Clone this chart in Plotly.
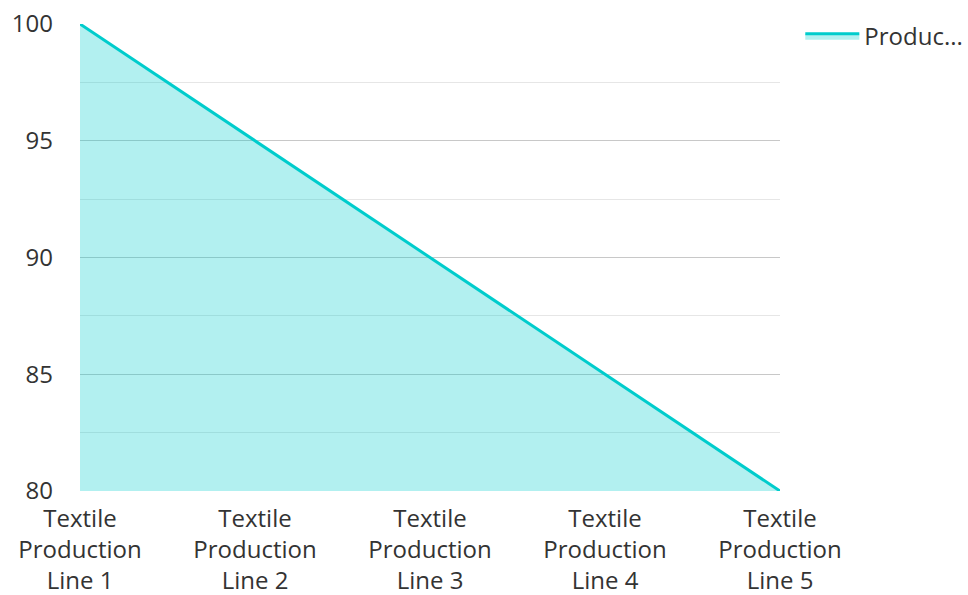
import plotly.graph_objects as go

categories = ["Textile<br>Production<br>Line 1", "Textile<br>Production<br>Line 2",
              "Textile<br>Production<br>Line 3", "Textile<br>Production<br>Line 4",
              "Textile<br>Production<br>Line 5"]
values = [100, 95, 90, 85, 80]
series_name = "Produc..."

fig = go.Figure()
fig.add_trace(go.Scatter(
    x=categories, y=values, name=series_name, mode="lines",
    line=dict(color="#00cccc", width=3),
    fill="tozeroy", fillcolor="rgba(0,204,204,0.3)",
))

fig.update_layout(
    width=968, height=595,
    margin=dict(l=80, r=188, t=24, b=104, autoexpand=False),
    paper_bgcolor="white", plot_bgcolor="white",
    font=dict(family="Open Sans", size=24, color="#333333"),
    showlegend=True,
    legend=dict(x=1.029, y=1.022, xanchor="left", yanchor="top", itemwidth=54,
                font=dict(size=24, color="#333333")),
    xaxis=dict(range=[0, 4], showgrid=False, zeroline=False, showline=False,
               ticks="", automargin=False, ticklabelstandoff=11,
               tickfont=dict(size=24)),
    yaxis=dict(range=[80, 100], dtick=5, showgrid=True, gridcolor="#c8c8c8",
               gridwidth=1, zeroline=False, showline=False, ticks="",
               automargin=False, ticklabelstandoff=26,
               minor=dict(dtick=2.5, showgrid=True, gridcolor="#e6e6e6", gridwidth=1),
               tickfont=dict(size=24)),
)

fig.write_html("out.html")
